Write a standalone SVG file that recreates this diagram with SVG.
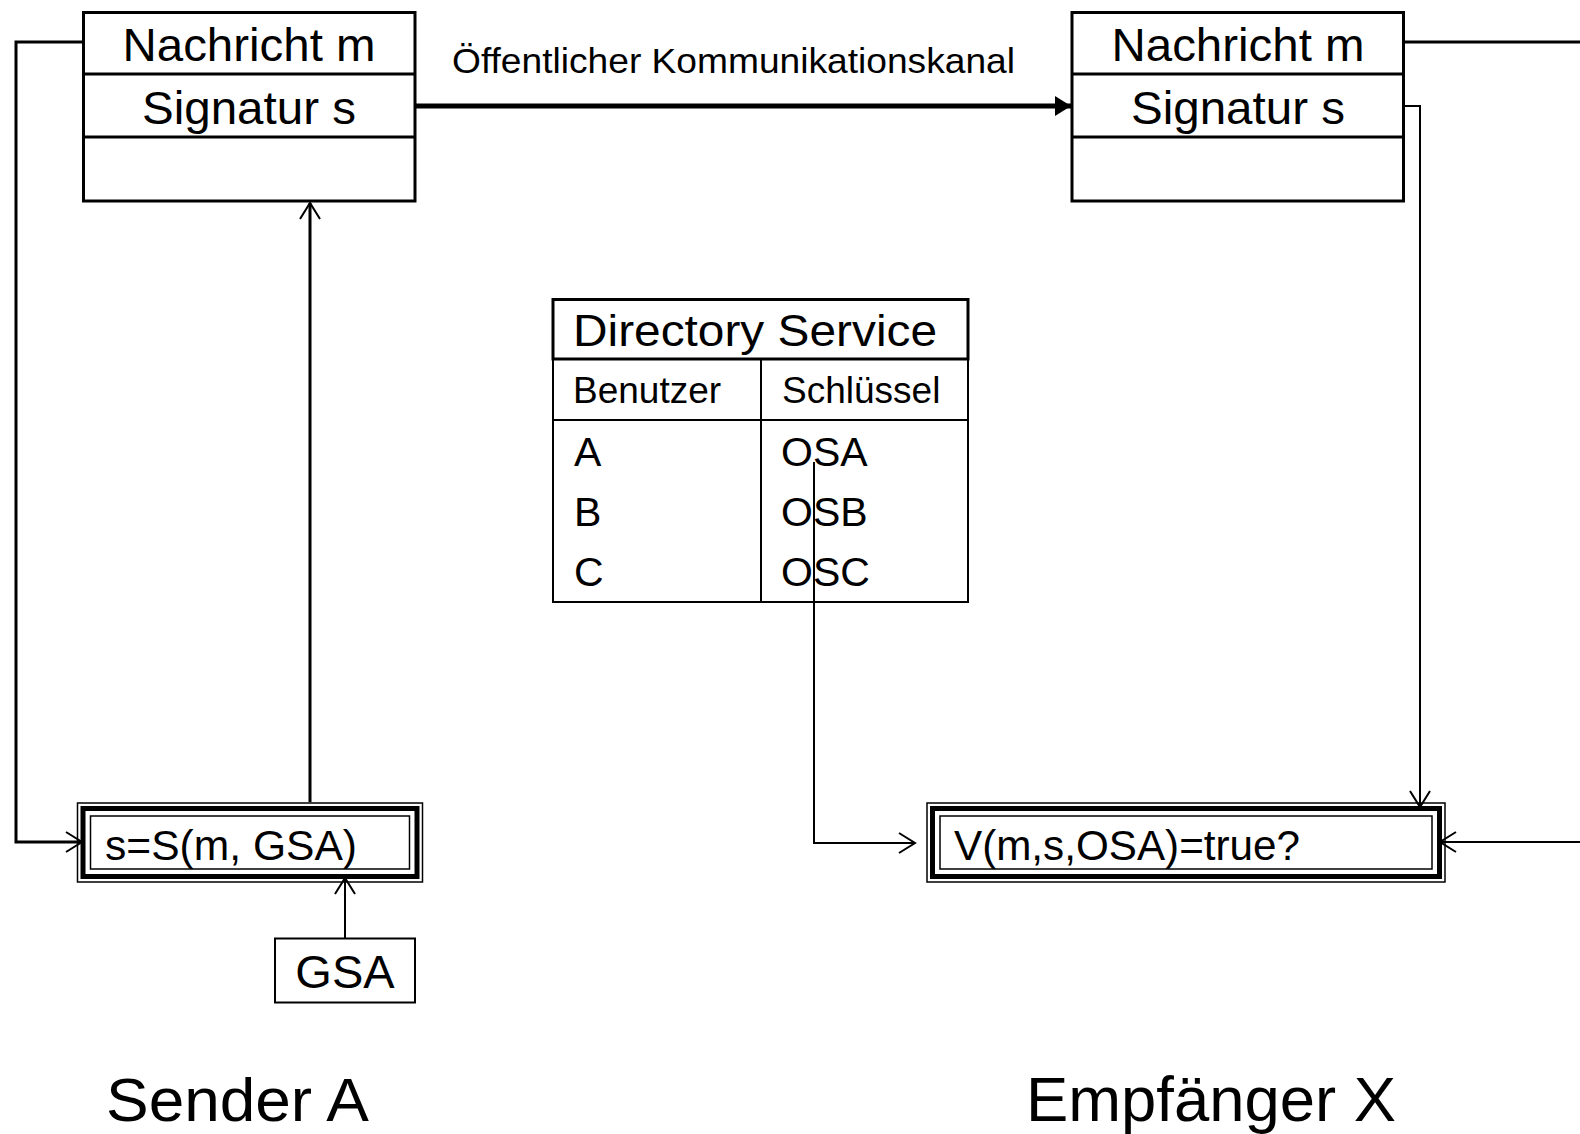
<svg xmlns="http://www.w3.org/2000/svg" width="1580" height="1134" viewBox="0 0 1580 1134">
<defs>
<style>
text{font-family:"Liberation Sans",Arial,sans-serif;fill:#000}
.box{fill:#fff;stroke:#000;stroke-width:3}
.thin{fill:none;stroke:#000;stroke-width:2}
.c3{fill:none;stroke:#000;stroke-width:3}
.c2{fill:none;stroke:#000;stroke-width:2}
.o{fill:none;stroke:#000;stroke-width:1.5}
.k{fill:none;stroke:#000;stroke-width:5}
</style>
<marker id="open" viewBox="0 0 20 24" refX="18" refY="12" markerWidth="20" markerHeight="24" markerUnits="userSpaceOnUse" orient="auto">
<path d="M2,2 L18,12 L2,22" fill="none" stroke="#000" stroke-width="2"/>
</marker>
<marker id="solid" viewBox="0 0 16 20" refX="16" refY="10" markerWidth="16" markerHeight="20" markerUnits="userSpaceOnUse" orient="auto">
<path d="M0,0 L16,10 L0,20 Z" fill="#000"/>
</marker>
</defs>
<rect width="1580" height="1134" fill="#fff"/>

<g id="connectors">
<polyline class="c3" points="83.5,42 16,42 16,842 82,842" marker-end="url(#open)"/>
<line class="k" x1="415" y1="106" x2="1071" y2="106" marker-end="url(#solid)"/>
<line class="c3" x1="310" y1="802" x2="310" y2="203" marker-end="url(#open)"/>
<line class="c2" x1="345" y1="938" x2="345" y2="878" marker-end="url(#open)"/>
<line class="c3" x1="1403" y1="42" x2="1580" y2="42"/>
<polyline class="c2" points="1403,106 1420,106 1420,807" marker-end="url(#open)"/>
<line class="c2" x1="1580" y1="842" x2="1440" y2="842" marker-end="url(#open)"/>
<polyline class="c2" points="814,462 814,843 915,843" marker-end="url(#open)"/>
</g>

<g id="sender-msg">
<rect class="box" x="83.5" y="12.5" width="331.5" height="188.5"/>
<line class="c3" x1="83.5" y1="74" x2="415" y2="74"/>
<line class="c3" x1="83.5" y1="137" x2="415" y2="137"/>
<text x="249" y="61" font-size="46" text-anchor="middle" textLength="253" lengthAdjust="spacingAndGlyphs">Nachricht m</text>
<text x="249" y="124" font-size="46" text-anchor="middle" textLength="214" lengthAdjust="spacingAndGlyphs">Signatur s</text>
</g>

<g id="receiver-msg">
<rect class="box" x="1072" y="12.5" width="331.5" height="188.5"/>
<line class="c3" x1="1072" y1="74" x2="1403.5" y2="74"/>
<line class="c3" x1="1072" y1="137" x2="1403.5" y2="137"/>
<text x="1238" y="61" font-size="46" text-anchor="middle" textLength="253" lengthAdjust="spacingAndGlyphs">Nachricht m</text>
<text x="1238" y="124" font-size="46" text-anchor="middle" textLength="214" lengthAdjust="spacingAndGlyphs">Signatur s</text>
</g>

<g id="channel-label">
<text x="452" y="73" font-size="35" textLength="563" lengthAdjust="spacingAndGlyphs">Öffentlicher Kommunikationskanal</text>
</g>

<g id="directory">
<rect class="box" x="553" y="299.5" width="415" height="59.5"/>
<polyline class="thin" points="553,359 553,602 968,602 968,359"/>
<line class="thin" x1="553" y1="420" x2="968" y2="420"/>
<line class="thin" x1="761" y1="359" x2="761" y2="602"/>
<text x="573" y="346" font-size="45" textLength="364" lengthAdjust="spacingAndGlyphs">Directory Service</text>
<text x="573" y="403" font-size="37">Benutzer</text>
<text x="782" y="403" font-size="37">Schlüssel</text>
<text x="574" y="466" font-size="41">A</text>
<text x="574" y="526" font-size="41">B</text>
<text x="574" y="586" font-size="41">C</text>
<text x="781" y="466" font-size="41">OSA</text>
<text x="781" y="526" font-size="41">OSB</text>
<text x="781" y="586" font-size="41">OSC</text>
</g>

<g id="sign">
<rect x="77.5" y="803" width="345" height="79" fill="#fff" class="o"/>
<rect class="k" x="83" y="808.5" width="334" height="68"/>
<rect class="o" x="90.5" y="816" width="319" height="53"/>
<text x="105" y="860" font-size="42" textLength="252" lengthAdjust="spacingAndGlyphs">s=S(m, GSA)</text>
</g>

<g id="gsa">
<rect class="thin" x="275" y="938.5" width="140" height="64" fill="#fff"/>
<text x="345" y="988" font-size="47" text-anchor="middle">GSA</text>
</g>

<g id="verify">
<rect x="927" y="803" width="518" height="79" fill="#fff" class="o"/>
<rect class="k" x="932.5" y="808.5" width="507" height="68"/>
<rect class="o" x="940" y="816" width="492" height="53"/>
<text x="954" y="860" font-size="42" textLength="346" lengthAdjust="spacingAndGlyphs">V(m,s,OSA)=true?</text>
</g>

<g id="labels">
<text x="106" y="1121" font-size="62" textLength="263" lengthAdjust="spacingAndGlyphs">Sender A</text>
<text x="1026" y="1121" font-size="63" textLength="370" lengthAdjust="spacingAndGlyphs">Empfänger X</text>
</g>
</svg>
